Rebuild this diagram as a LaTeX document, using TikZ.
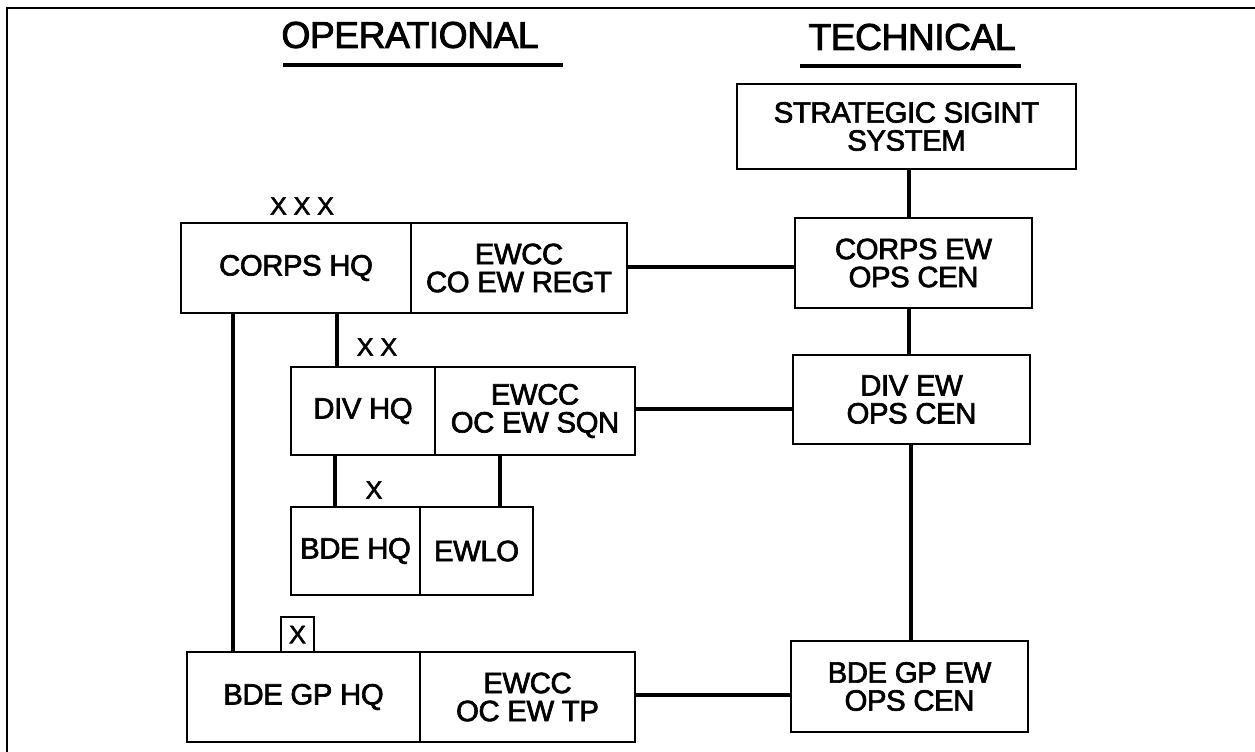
\documentclass[tikz,border=0pt]{standalone}
\usepackage{fontspec}
\setmainfont{Liberation Sans}[FakeBold=2.2, LetterSpace=-1.5]
\usetikzlibrary{calc}
\begin{document}
\begin{tikzpicture}[x=0.75pt,y=-0.75pt,
  cell/.style={draw, line width=2.1pt, inner sep=0pt, align=center, font=\fontsize{22}{21}\selectfont},
  conn/.style={line width=2.8pt},
  lbl/.style={font=\fontsize{19}{19}\selectfont, inner sep=0pt},
  title/.style={font=\fontsize{28}{30}\selectfont, inner sep=0pt},
  uline/.style={line width=2.4pt}]
\useasboundingbox (0,0) rectangle (1255,752);
\draw[line width=1.6pt] (7,752) -- (7,8) -- (1255,8);
% titles
\node[title] (op) at (410,35) {OPERATIONAL};
\node[title] (tech) at (912,37) {TECHNICAL};
\draw[uline] (283,65) -- (563,65);
\draw[uline] (800,66) -- (1021,66);
% technical column
\node[cell, minimum width=254.25pt, minimum height=63.75pt] (strat) at (906.5,126.5) {STRATEGIC SIGINT\\SYSTEM};
\node[cell, minimum width=177.75pt, minimum height=67.5pt] (corpsew) at (913.5,263) {CORPS EW\\OPS CEN};
\node[cell, minimum width=177.75pt, minimum height=66.75pt] (divew) at (911.5,399.5) {DIV EW\\OPS CEN};
\node[cell, minimum width=177.75pt, minimum height=68.25pt] (bdegpew) at (909.5,686.5) {BDE GP EW\\OPS CEN};
% operational column
\node[cell, minimum width=172.5pt, minimum height=67.5pt] (corpshq) at (296,268) {CORPS HQ};
\node[cell, minimum width=162pt, minimum height=67.5pt] (corpsewcc) at (519,268) {EWCC\\CO EW REGT};
\node[cell, minimum width=108pt, minimum height=66pt] (divhq) at (363,411) {DIV HQ};
\node[cell, minimum width=150pt, minimum height=66pt] (divewcc) at (535,411) {EWCC\\OC EW SQN};
\node[cell, minimum width=96.75pt, minimum height=66pt] (bdehq) at (355.5,551) {BDE HQ};
\node[cell, minimum width=84.75pt, minimum height=66pt] (ewlo) at (476.5,551) {EWLO};
\node[cell, minimum width=174.75pt, minimum height=67.5pt] (bdegphq) at (303.5,697) {BDE GP HQ};
\node[cell, minimum width=161.25pt, minimum height=67.5pt] (bdegpewcc) at (527.5,697) {EWCC\\OC EW TP};
\node[cell, minimum width=24.75pt, minimum height=26.25pt, font=\fontsize{19}{19}\selectfont] (bx) at (297.5,634.5) {X};
% echelon labels
\node[lbl] (xxx) at (302,206) {X X X};
\node[lbl] (xx) at (377,347) {X X};
\node[lbl] (x1) at (374,490) {X};
% connectors
\coordinate (tx) at (909,0);
\coordinate (tx2) at (911,0);
\draw[conn] (strat.south -| tx) -- (corpsew.north -| tx);
\draw[conn] (corpsew.south -| tx) -- (divew.north -| tx);
\draw[conn] (divew.south -| tx2) -- (bdegpew.north -| tx2);
\coordinate (h1) at (0,267);
\coordinate (h2) at (0,409);
\coordinate (h3) at (0,695);
\draw[conn] (corpsewcc.east |- h1) -- (corpsew.west |- h1);
\draw[conn] (divewcc.east |- h2) -- (divew.west |- h2);
\draw[conn] (bdegpewcc.east |- h3) -- (bdegpew.west |- h3);
\coordinate (v1) at (233,0);
\coordinate (v2) at (337,0);
\coordinate (v3) at (335,0);
\coordinate (v4) at (500,0);
\draw[conn] (corpshq.south -| v1) -- (bdegphq.north -| v1);
\draw[conn] (corpshq.south -| v2) -- (divhq.north -| v2);
\draw[conn] (divhq.south -| v3) -- (bdehq.north -| v3);
\draw[conn] (divewcc.south -| v4) -- (ewlo.north -| v4);
\end{tikzpicture}
\end{document}
